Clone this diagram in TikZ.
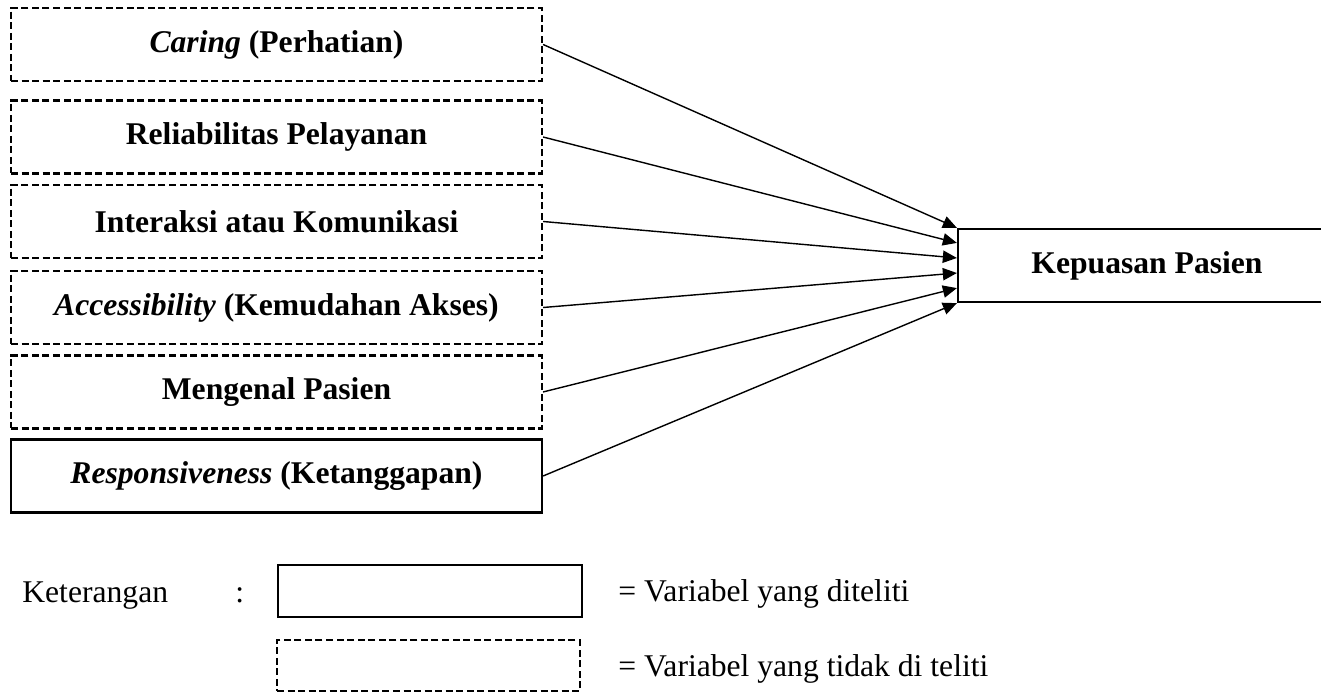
\documentclass[tikz,border=0pt]{standalone}
\usepackage{fontspec}
\setmainfont{Liberation Serif}
\usepackage{tikz}
\usetikzlibrary{arrows.meta,calc}

\tikzset{
  varbox/.style = {draw, line width=1.3pt, minimum width=10.62cm, minimum height=1.46cm,
                   font=\fontsize{18}{21}\selectfont\bfseries},
  notbox/.style = {varbox, dash pattern=on 4pt off 2pt},
  legtext/.style = {anchor=base west, inner sep=0pt, font=\fontsize{18}{21}\selectfont}
}

\begin{document}
\begin{tikzpicture}
          [x = 0.02cm, y = -0.02cm, >= {Triangle[length=8pt,width=7pt]}]
          \useasboundingbox (0,0) rectangle (1321,692);
          \node[notbox] (caring) at (276.5,44.5) {\textit{Caring} (Perhatian)};
          \node[notbox] (reliabilitas) at (276.5,137) {Reliabilitas Pelayanan};
          \node[notbox] (interaksi) at (276.5,221.5) {Interaksi atau Komunikasi};
          \node[notbox] (akses) at (276.5,307.5) {\textit{Accessibility} (Kemudahan Akses)};
          \node[notbox] (mengenal) at (276.5,392) {Mengenal Pasien};
          \node[varbox] (respon) at (276.5,476) {\textit{Responsiveness} (Ketanggapan)};
          \node[varbox, minimum width=7.56cm] (kepuasan) at (1147,265.5) {Kepuasan Pasien};
          \foreach \n [count=\i from 0] in {caring,reliabilitas,interaksi,akses,mengenal,respon}
            \draw[->, line width=0.8pt] (\n.east) -- ($(kepuasan.north west)!\i/5!(kepuasan.south west)$);
          % keterangan
          \node[legtext] (ket) at (22,602) {Keterangan};
          \node[legtext] (titik) at (235,602) {:};
          \node[varbox, minimum width=6.08cm, minimum height=1.04cm] (legteliti) at (430,591) {};
          \node[notbox, minimum width=6.06cm, minimum height=1.02cm] (legtidak) at (428.5,665.5) {};
          \node[legtext] (teliti) at (618,601) {= Variabel yang diteliti};
          \node[legtext] (tidak) at (618,676) {= Variabel yang tidak di teliti};
        \end{tikzpicture}
\end{document}
